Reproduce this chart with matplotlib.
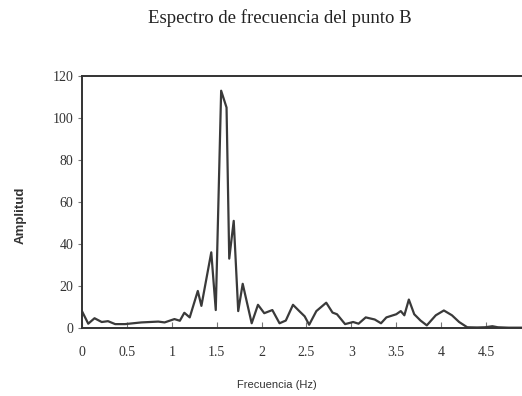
import matplotlib
matplotlib.use('Agg')
import matplotlib.pyplot as plt

# Frequency spectrum at point B
freq_hz = [0.00, 0.07, 0.14, 0.22, 0.29, 0.37, 0.48, 0.66, 0.85, 0.92,
           1.03, 1.09, 1.14, 1.20, 1.29, 1.33, 1.44, 1.49, 1.55, 1.61,
           1.64, 1.69, 1.74, 1.79, 1.89, 1.96, 2.03, 2.12, 2.20, 2.27,
           2.35, 2.42, 2.48, 2.53, 2.61, 2.72, 2.79, 2.84, 2.93, 3.02,
           3.08, 3.16, 3.26, 3.33, 3.39, 3.50, 3.55, 3.59, 3.64, 3.70,
           3.77, 3.84, 3.94, 4.03, 4.12, 4.20, 4.29, 4.40, 4.49, 4.57,
           4.63, 4.75, 4.90]
amplitude = [8.0, 2.0, 4.6, 2.8, 3.2, 1.8, 1.8, 2.6, 3.0, 2.6,
             4.2, 3.4, 7.2, 5.0, 17.6, 10.5, 36.0, 8.5, 113.0, 105.0,
             33.0, 51.0, 8.0, 21.0, 2.2, 11.0, 7.0, 8.5, 2.2, 3.5,
             11.0, 8.0, 5.5, 1.5, 8.0, 12.0, 7.3, 6.5, 1.8, 2.8,
             2.0, 5.0, 4.0, 2.2, 5.0, 6.5, 8.0, 6.0, 13.5, 6.5,
             3.5, 1.2, 6.0, 8.3, 6.0, 2.8, 0.3, 0.2, 0.3, 0.8,
             0.3, 0.1, 0.1]

x_ticks = [0, 0.5, 1, 1.5, 2, 2.5, 3, 3.5, 4, 4.5]
x_ticklabels = ['0', '0.5', '1', '1.5', '2', '2.5', '3', '3.5', '4', '4.5']
y_ticks = [0, 20, 40, 60, 80, 100, 120]

INK = '#333333'
SERIF = 'Liberation Serif'
SANS = 'Liberation Sans'

fig = plt.figure(figsize=(5.22, 3.96), dpi=100)
ax = fig.add_axes([0.157, 0.172, 0.843, 0.636])

ax.plot(freq_hz, amplitude, color='#3a3a3a', lw=1.6)

ax.set_xlim(0, 4.9)
ax.set_ylim(0, 120)
ax.set_xticks(x_ticks)
ax.set_xticklabels(x_ticklabels, fontfamily=SERIF, fontsize=10, color=INK)
ax.set_yticks(y_ticks)
ax.set_yticklabels([str(v) for v in y_ticks], fontfamily=SERIF, fontsize=10, color=INK)
ax.tick_params(axis='x', direction='in', length=4, width=0.8, color='#777777', pad=13)
ax.tick_params(axis='y', direction='out', length=3, width=0.8, color='#777777', pad=3)

for side in ('left', 'top', 'bottom'):
    ax.spines[side].set_color(INK)
    ax.spines[side].set_linewidth(1.4)
ax.spines['right'].set_visible(False)

ax.set_xlabel('Frecuencia (Hz)', fontfamily=SANS, fontsize=8, color=INK)
ax.xaxis.set_label_coords(0.443, -0.205)
ax.set_ylabel('Amplitud', fontfamily=SANS, fontsize=9.5, fontweight='bold', color=INK)
ax.yaxis.set_label_coords(-0.125, 0.448)
fig.text(0.536, 0.955, 'Espectro de frecuencia del punto B', fontfamily=SERIF,
         fontsize=13.5, color='#222222', ha='center', va='center')

fig.savefig('out.png', dpi=100)
